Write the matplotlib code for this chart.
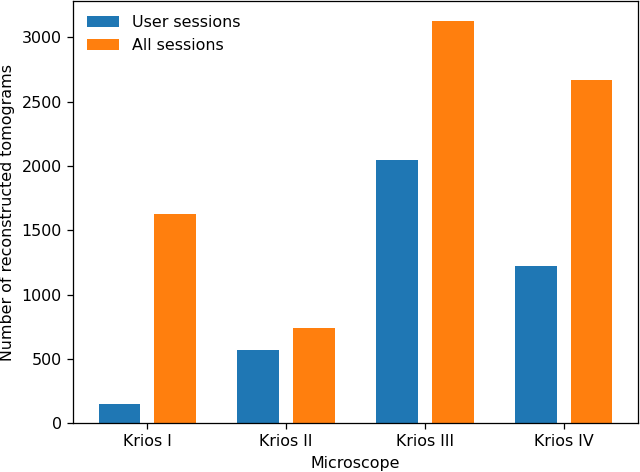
import matplotlib
matplotlib.use("Agg")
import matplotlib.pyplot as plt
import numpy as np

microscopes = ["Krios I", "Krios II", "Krios III", "Krios IV"]
user_sessions = [152, 572, 2046, 1220]
all_sessions = [1624, 740, 3126, 2665]

DPI = 114.3
fig, ax = plt.subplots(figsize=(640 / DPI, 472 / DPI), dpi=DPI)
fig.subplots_adjust(left=0.114, right=0.997, top=0.998, bottom=0.1032)
x = np.arange(len(microscopes))
w = 0.3
ax.bar(x - 0.2, user_sessions, w, label="User sessions", color="#1f77b4")
ax.bar(x + 0.2, all_sessions, w, label="All sessions", color="#ff7f0e")
ax.set_xticks(x)
ax.set_xticklabels(microscopes)
ax.set_xlabel("Microscope")
ax.set_ylabel("Number of reconstructed tomograms")
ax.legend(loc="upper left", frameon=False)
fig.savefig("out.png", dpi=DPI)
